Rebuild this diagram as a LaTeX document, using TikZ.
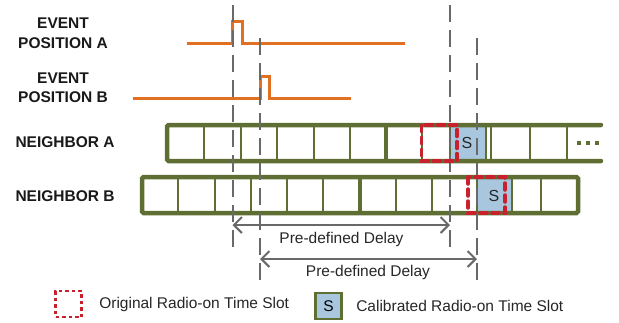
\documentclass[tikz,border=0pt]{standalone}
\usepackage{fontspec}
\setmainfont{Liberation Sans}
\usetikzlibrary{arrows.meta,positioning}
\definecolor{evt}{RGB}{226,112,34}
\definecolor{slotg}{RGB}{95,111,52}
\definecolor{orig}{RGB}{200,32,44}
\definecolor{calib}{RGB}{168,198,222}
\definecolor{guide}{RGB}{105,105,105}

\begin{document}
\begin{tikzpicture}[x=1pt,y=-1pt,
  lbl/.style={font=\fontsize{15.5}{19.5}\selectfont\bfseries,align=center,text=black!90},
  txt/.style={font=\fontsize{15.5}{18}\selectfont,text=black!85},
  sig/.style={draw=evt,line width=3pt},
  slotbar/.style={draw=slotg,line width=4.5pt,rounded corners=1.5pt,line cap=round},
  cell/.style={draw=slotg,line width=2.2pt},
  cellb/.style={draw=slotg,line width=3.5pt},
  cal/.style={fill=calib},
  org/.style={draw=orig,line width=3.5pt,dash pattern=on 7pt off 5pt,line cap=round},
  gd/.style={draw=guide,line width=2pt,dash pattern=on 17pt off 8pt},
  dl/.style={draw=guide,line width=2pt,{Straight Barb[length=8pt,width=16pt]}-{Straight Barb[length=8pt,width=16pt]}}]
 \useasboundingbox (0,0) rectangle (619,322);
 % event signals
 \node[lbl] (evA) at (63,33) {EVENT\\POSITION A};
 \draw[sig] (187,43) -- (232.5,43) |- (242,21) |- (405,43);
 \node[lbl] (evB) at (63,87.5) {EVENT\\POSITION B};
 \draw[sig] (133,98) -- (260,98) |- (269,76) |- (351,98);
 % neighbor A
 \node[lbl,anchor=west] (nbA) at (12,142) {NEIGHBOR A};
 \fill[cal] (450,125) rectangle (486,161);
 \draw[slotbar] (601,125) -- (167,125) -- (167,161) -- (601,161);
 \foreach \x in {204,241,277,314,350,422,450,486,491,530,567} \draw[cell] (\x,125) -- (\x,161);
 \draw[cellb] (386,125) -- (386,161);
 \node[txt,font=\fontsize{16}{18}\selectfont] (sA) at (467,143) {S};
 \foreach \x in {579,588,597} \fill[slotg] (\x-1.6,141.4) rectangle +(3.2,3.2);
 % neighbor B
 \node[lbl,anchor=west] (nbB) at (12,196) {NEIGHBOR B};
 \fill[cal] (477,177) rectangle (512,213);
 \draw[slotbar] (142,177) rectangle (578,213);
 \foreach \x in {178,215,251,287,323,396,432,477,512,541} \draw[cell] (\x,177) -- (\x,213);
 \draw[cellb] (360,177) -- (360,213);
 \node[txt,font=\fontsize{16}{18}\selectfont] (sB) at (494,196) {S};
 % guide lines
 \coordinate (g1) at (232.5,5);  \coordinate (g1e) at (232.5,252);
 \coordinate (g2) at (260,38);   \coordinate (g2e) at (260,287);
 \coordinate (g3) at (450,5);    \coordinate (g3e) at (450,252);
 \coordinate (g4) at (477,38);   \coordinate (g4e) at (477,287);
 \draw[gd] (g1) -- (g1e) (g2) -- (g2e) (g3) -- (g3e) (g4) -- (g4e);
 % original slots
 \draw[org] (421.5,125) rectangle (457,161);
 \draw[org] (468,177) rectangle (505,213);
 % delays
 \coordinate (d1a) at (232.5,225); \coordinate (d1b) at (450,225);
 \coordinate (d2a) at (260,259);   \coordinate (d2b) at (477,259);
 \draw[dl] (d1a) -- (d1b);
 \draw[dl] (d2a) -- (d2b);
 \node[txt] (t1) at (341.5,239) {Pre-defined Delay};
 \node[txt] (t2) at (368,272.5) {Pre-defined Delay};
 % legend
 \node[draw=orig,line width=2.5pt,dash pattern=on 3.5pt off 3pt,minimum size=26pt,inner sep=0] (lgO) at (68.5,304) {};
 \node[txt,right=13pt of lgO] (lgOt) {Original Radio-on Time Slot};
 \node[fill=calib,draw=slotg,line width=2.5pt,minimum size=26pt,inner sep=0,font=\fontsize{15.5}{18}\selectfont] (lgC) at (328.5,306) {S};
 \node[txt,right=10pt of lgC] (lgCt) {Calibrated Radio-on Time Slot};
\end{tikzpicture}
\end{document}
